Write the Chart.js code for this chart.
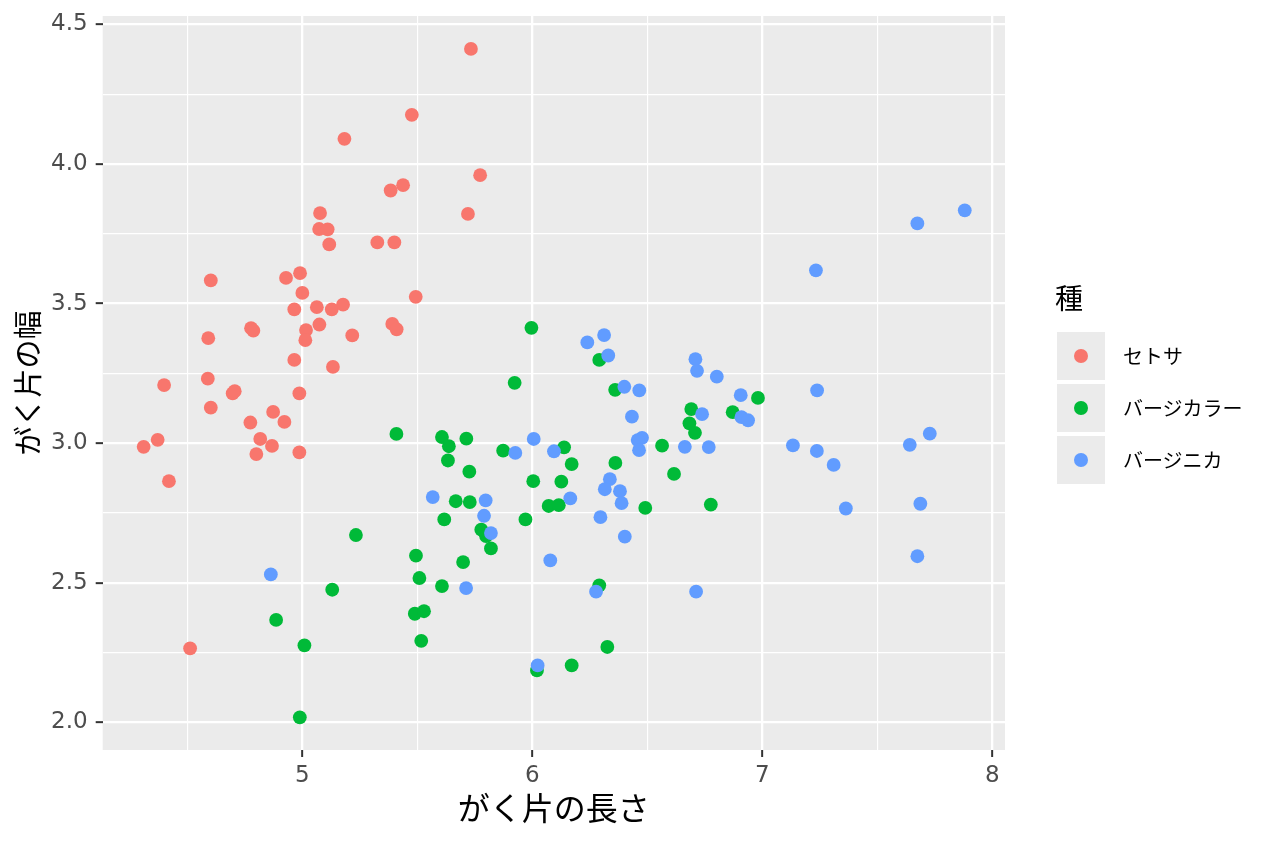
<!DOCTYPE html>
<html>
<head>
<meta charset="utf-8">
<script src="https://cdn.jsdelivr.net/npm/chart.js@4.4.1/dist/chart.umd.min.js"></script>
<style>
html,body{margin:0;padding:0;background:#ffffff;}
#wrap{position:relative;width:1264px;height:848px;overflow:hidden;}
#c{position:absolute;left:0;top:0;}
.lg{position:absolute;font-family:'Noto Sans CJK JP','Noto Sans',sans-serif;color:#000;white-space:nowrap;}
.key{position:absolute;background:#EBEBEB;}
.dot{position:absolute;border-radius:50%;}
</style>
</head>
<body>
<div id="wrap">
<canvas id="c" width="1264" height="848"></canvas>
<div id="legend"></div>
</div>
<script>
// ---- data ----
const species = ['セトサ', 'バージカラー', 'バージニカ'];
const legendTitle = '種';
const xTitle = 'がく片の長さ';
const yTitle = 'がく片の幅';

const setosaLength = [5.733,5.476,5.183,5.773,5.438,5.384,5.720,5.077,5.073,5.110,5.117,5.326,5.400,4.602,4.929,4.990,5.000,5.493,4.965,5.063,5.128,5.177,5.016,5.013,5.074,5.217,5.391,5.410,4.777,4.787,4.591,5.133,4.965,4.399,4.589,4.602,4.697,4.706,4.987,4.873,4.774,4.922,4.817,4.371,4.310,4.868,4.800,4.987,4.420,4.512];
const setosaWidth = [4.412,4.176,4.090,3.960,3.924,3.905,3.821,3.824,3.767,3.766,3.712,3.719,3.719,3.583,3.592,3.609,3.538,3.524,3.479,3.487,3.479,3.496,3.405,3.369,3.425,3.386,3.427,3.408,3.412,3.403,3.376,3.273,3.298,3.208,3.231,3.127,3.178,3.186,3.178,3.112,3.074,3.076,3.015,3.012,2.987,2.990,2.961,2.967,2.864,2.265];

const versicolorLength = [5.996,6.291,5.923,6.360,5.409,5.607,5.637,5.713,5.633,5.873,6.138,6.171,6.361,5.726,6.004,6.126,5.667,5.728,6.071,6.115,5.617,5.970,5.778,5.799,5.820,5.494,5.699,5.233,5.509,5.607,6.291,5.130,5.489,5.529,4.886,5.517,5.009,6.326,6.020,6.171,4.989,6.564,6.691,6.871,6.981,6.683,6.707,6.616,6.491,6.776];
const versicolorWidth = [3.413,3.298,3.216,3.191,3.033,3.022,2.989,3.016,2.938,2.973,2.985,2.925,2.929,2.898,2.864,2.862,2.792,2.789,2.775,2.778,2.727,2.727,2.690,2.667,2.623,2.597,2.574,2.671,2.517,2.488,2.491,2.475,2.389,2.398,2.367,2.292,2.276,2.270,2.186,2.204,2.018,2.991,3.122,3.111,3.162,3.071,3.037,2.890,2.768,2.780];

const virginicaLength = [6.239,6.312,6.330,5.926,6.006,6.094,6.337,6.315,5.567,5.797,6.165,6.381,6.388,5.790,5.820,6.078,6.296,6.402,5.712,6.277,4.863,6.023,6.709,6.716,6.802,6.400,6.465,6.906,6.738,6.909,6.938,6.433,6.477,6.458,6.464,6.663,6.767,6.712,7.674,7.880,7.233,7.238,7.133,7.237,7.310,7.363,7.728,7.641,7.687,7.674];
const virginicaWidth = [3.361,3.387,3.314,2.965,3.015,2.971,2.871,2.835,2.807,2.795,2.802,2.828,2.785,2.740,2.678,2.580,2.735,2.665,2.481,2.468,2.530,2.204,3.301,3.259,3.238,3.202,3.189,3.172,3.104,3.093,3.082,3.095,3.019,3.011,2.975,2.987,2.986,2.468,3.787,3.834,3.619,3.189,2.992,2.972,2.922,2.766,3.034,2.994,2.783,2.595];

const xTickValues = [4.5, 5, 5.5, 6, 6.5, 7, 7.5, 8];
const xMajorTicks = [5, 6, 7, 8];
const yTickValues = [2, 2.25, 2.5, 2.75, 3, 3.25, 3.5, 3.75, 4, 4.25, 4.5];
const yMajorTicks = [2, 2.5, 3, 3.5, 4, 4.5];
const xRange = [4.132, 8.055];
const yRange = [1.901, 4.530];

// ---- styles ----
const colors = ['#F8766D', '#00BA38', '#619CFF'];
const pointR = 6.9;
const tickFont = {family: "'DejaVu Sans', sans-serif", size: 23};
const xTitleFont = {family: "'Noto Sans CJK JP', sans-serif", size: 32};
const yTitleFont = {family: "'Noto Sans CJK JP', sans-serif", size: 29};

const toPts = (xs, ys) => xs.map((x, i) => ({x: x, y: ys[i]}));
const seriesPts = [
  toPts(setosaLength, setosaWidth),
  toPts(versicolorLength, versicolorWidth),
  toPts(virginicaLength, virginicaWidth)
];

const isMajor = (list, v) => list.some(m => Math.abs(m - v) < 1e-9);

const panelBg = {
  id: 'panelBg',
  beforeDraw(chart) {
    const {ctx, chartArea: a} = chart;
    ctx.save();
    ctx.fillStyle = '#EBEBEB';
    ctx.fillRect(a.left, a.top, a.right - a.left, a.bottom - a.top);
    ctx.restore();
  }
};

function gridFor(majors) {
  return {
    color: '#FFFFFF',
    lineWidth: c => (c.tick && isMajor(majors, c.tick.value)) ? 2.3 : 1.15,
    drawTicks: true,
    tickLength: 7,
    tickColor: c => (c.tick && isMajor(majors, c.tick.value)) ? '#333333' : 'rgba(0,0,0,0)',
    tickWidth: 2
  };
}

new Chart(document.getElementById('c'), {
  type: 'scatter',
  data: {
    datasets: species.map((s, i) => ({
      label: s,
      data: seriesPts[i],
      backgroundColor: colors[i],
      borderWidth: 0,
      pointRadius: pointR,
      pointHoverRadius: pointR,
      order: 3 - i
    }))
  },
  options: {
    responsive: false,
    animation: false,
    events: [],
    layout: {padding: {left: 0, right: 259, top: 16, bottom: 0}},
    plugins: {legend: {display: false}, tooltip: {enabled: false}},
    scales: {
      x: {
        type: 'linear',
        min: xRange[0], max: xRange[1],
        afterBuildTicks: ax => { ax.ticks = xTickValues.map(v => ({value: v})); },
        afterFit: ax => { ax.height = 98; ax.paddingLeft = 0; ax.paddingRight = 0; },
        ticks: {
          autoSkip: false, maxRotation: 0, padding: 5,
          color: '#4D4D4D', font: tickFont,
          callback: v => isMajor(xMajorTicks, v) ? String(v) : ''
        },
        grid: gridFor(xMajorTicks),
        border: {display: false},
        title: {display: true, text: xTitle, color: '#000000', font: xTitleFont, padding: {top: 0, bottom: 21}}
      },
      y: {
        type: 'linear',
        min: yRange[0], max: yRange[1],
        afterBuildTicks: ax => { ax.ticks = yTickValues.map(v => ({value: v})); },
        afterFit: ax => { ax.width = 102.7; ax.paddingTop = 0; ax.paddingBottom = 0; },
        ticks: {
          autoSkip: false, padding: 8,
          color: '#4D4D4D', font: tickFont,
          callback: v => isMajor(yMajorTicks, v) ? Number(v).toFixed(1) : ''
        },
        grid: gridFor(yMajorTicks),
        border: {display: false},
        title: {display: true, text: yTitle, color: '#000000', font: yTitleFont, padding: {top: 11, bottom: 0}}
      }
    }
  },
  plugins: [panelBg]
});

// ---- legend (HTML) ----
const lg = document.getElementById('legend');
const t = document.createElement('div');
t.className = 'lg';
t.textContent = legendTitle;
t.style.cssText = 'left:1055px;top:283px;font-size:28px;line-height:1;';
lg.appendChild(t);
const keyTops = [332, 384, 436];
species.forEach((s, i) => {
  const k = document.createElement('div');
  k.className = 'key';
  k.style.cssText = `left:1057px;top:${keyTops[i]}px;width:48px;height:48px;`;
  const d = document.createElement('div');
  d.className = 'dot';
  d.style.cssText = `left:${24 - pointR}px;top:${24 - pointR}px;width:${2 * pointR}px;height:${2 * pointR}px;background:${colors[i]};`;
  k.appendChild(d);
  lg.appendChild(k);
  const l = document.createElement('div');
  l.className = 'lg';
  l.textContent = s;
  l.style.cssText = `left:1123px;top:${keyTops[i] + 24 - 12}px;font-size:20px;line-height:24px;`;
  lg.appendChild(l);
});
</script>
</body>
</html>
